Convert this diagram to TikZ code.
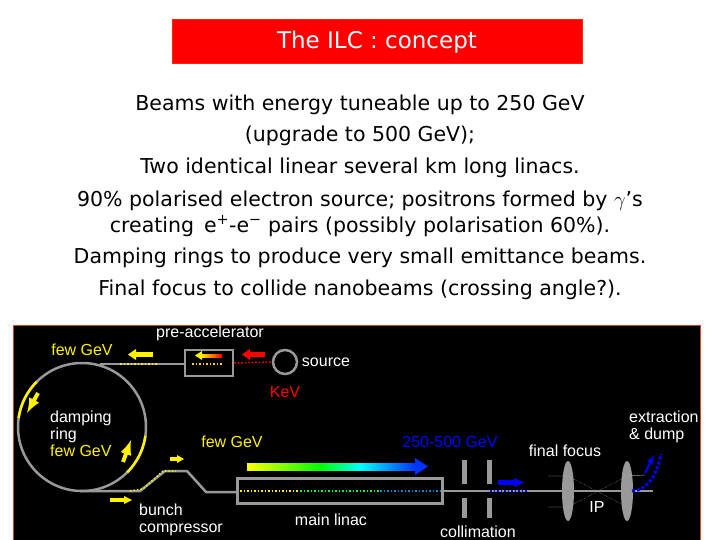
\documentclass[tikz,border=0pt]{standalone}
\usepackage{fontspec}
\usetikzlibrary{shapes.geometric}
\setmainfont{DejaVu Sans}
\newfontfamily\arialf{Liberation Sans}
\begin{document}
\begin{tikzpicture}[x=1pt,y=-1pt,
  body/.style={font=\fontsize{20.5}{22}\selectfont,align=center},
  lab/.style={font=\arialf\fontsize{16}{17}\selectfont,text=white,align=left,inner sep=0pt},
  beam/.style={draw=gray!80,line width=2.5pt}]
\useasboundingbox (0,0) rectangle (720,540);
\fill[white] (0,0) rectangle (720,540);
\node[fill=red,draw=red!70!orange,line width=1pt,minimum width=410,minimum height=44,text=white,font=\fontsize{23}{25}\selectfont] (title) at (377,42) {The ILC : concept};
\node[body] (l1) at (360,105) {Beams with energy tuneable up to 250 GeV};
\node[body] (l2) at (360,136) {(upgrade to 500 GeV);};
\node[body] (l3) at (360,168) {Two identical linear several km long linacs.};
\node[body] (l4) at (360,201) {90\% polarised electron source; positrons formed by $\gamma$’s};
\node[body] (l5) at (360,226) {creating\, e\textsuperscript{+}-e\textsuperscript{−} pairs (possibly polarisation 60\%).};
\node[body] (l6) at (360,258) {Damping rings to produce very small emittance beams.};
\node[body] (l7) at (360,290) {Final focus to collide nanobeams (crossing angle?).};
% diagram
\fill[black] (13,325) rectangle (700,540);
\draw[red!50!brown,line width=1pt] (13,540) -- (13,325) -- (700,325) -- (700,540);
\coordinate (rc) at (82,427);
\draw[beam] (rc) circle (64);
\draw[beam] (100,364) -- (185,364);
\node[draw=gray!80,line width=2.5pt,minimum width=48,minimum height=26,inner sep=0pt] (pre) at (209,363) {};
\node[draw=gray!80,line width=2.5pt,circle,minimum size=24,inner sep=0pt] (src) at (285,362) {};
\draw[red,line width=1.5pt,dotted] (pre.east) -- (src.west);
\draw[yellow,line width=1.5pt,dotted] (120,364) -- (158,364);
\draw[yellow!70!orange,line width=1.5pt,dotted] (192,364) -- (222,364);
\shade[left color=yellow,right color=red] (200,354) rectangle (222,357);
\fill[yellow] (195,355.5) -- (202,351) -- (202,360) -- cycle;
\fill[red] (247,352) rectangle (265,357);
\fill[red] (242,354.5) -- (250,349) -- (250,360) -- cycle;
\fill[yellow] (135,352) rectangle (153,357);
\fill[yellow] (128,354.5) -- (136,349) -- (136,360) -- cycle;
\draw[yellow,line width=2.5pt] plot[domain=135:172,samples=20] ({82+64*cos(\x)},{427-64*sin(\x)});
\draw[yellow,line width=2.5pt] plot[domain=-8:-45,samples=20] ({82+64*cos(\x)},{427-64*sin(\x)});
\draw[yellow,line width=4pt,-latex] (38,393) -- (27,413);
\draw[yellow,line width=4pt,-latex] (123,462) -- (131,440);
\coordinate (b0) at (80,491);
\draw[beam] (b0) -- (140,491) -- (165,471) -- (187,471) -- (206,492) -- (237,492);
\draw[yellow,line width=1.5pt,dotted] (130,491) -- (143,489) -- (163,471) -- (176,471);
\fill[yellow] (170,457) rectangle (178,461);
\fill[yellow] (177,455) -- (184,459) -- (177,463) -- cycle;
\fill[yellow] (110,498) rectangle (125,502);
\fill[yellow] (124,496) -- (132,500) -- (124,504) -- cycle;
\node[draw=gray!80,line width=2.5pt,minimum width=205,minimum height=25,inner sep=0pt] (lin) at (340,491) {};
\draw[beam] (lin.east) -- (653,491);
\draw[line width=1.5pt,dotted,yellow] (240,491) -- (300,491);
\draw[line width=1.5pt,dotted,green!80!cyan] (300,491) -- (380,491);
\draw[line width=1.5pt,dotted,cyan!70!blue] (380,491) -- (440,491);
\shade[left color=yellow,right color=green] (247,463) rectangle (320,470);
\shade[left color=green,right color=cyan] (320,463) rectangle (360,470);
\shade[left color=cyan,right color=blue!80!cyan] (360,463) rectangle (415,470);
\fill[blue!80!cyan] (415,458) -- (428,466.5) -- (415,475) -- cycle;
\foreach \x in {462,487}{\fill[gray!80] (\x,460) rectangle (\x+5,484); \fill[gray!80] (\x,498) rectangle (\x+5,518);}
\draw[line width=1.5pt,dotted,blue] (490,491) -- (528,491);
\fill[blue] (498,480) rectangle (515,485);
\fill[blue] (514,478) -- (524,482.5) -- (514,487) -- cycle;
\node[ellipse,fill=gray!80,minimum width=12,minimum height=60,inner sep=0pt] (f1) at (568,491) {};
\node[ellipse,fill=gray!80,minimum width=12,minimum height=60,inner sep=0pt] (f2) at (627,491) {};
\draw[gray!60,thin] (548,476) -- (568,476) (548,507) -- (568,507) (627,476) -- (645,475);
\draw[gray!60,thin,densely dotted] (568,476) -- (627,507) (568,507) -- (627,476);
\draw[blue,line width=3pt,dotted] (632,491) .. controls (650,490) and (658,470) .. (661,454);
\draw[blue,line width=2pt,-latex] (645,473) -- (654,455);
% labels
\node[lab,text=yellow] (t1) at (82,350) {few GeV};
\node[lab] (t2) at (210,333) {pre-accelerator};
\node[lab] (t3) at (326,362) {source};
\node[lab,text=red] (t4) at (285,392) {KeV};
\node[lab,anchor=north west] (t5) at (50,411) {damping\\ring\\\textcolor{yellow}{few GeV}};
\node[lab,text=yellow] (t6) at (232,442) {few GeV};
\node[lab,text=blue] (t7) at (450,442) {250-500 GeV};
\node[lab] (t8) at (565,451) {final focus};
\node[lab,anchor=north west] (t9) at (629,411) {extraction\\\& dump};
\node[lab] (t10) at (597,507) {IP};
\node[lab,anchor=north west] (t11) at (139,504) {bunch\\compressor};
\node[lab] (t12) at (331,520) {main linac};
\node[lab] (t13) at (478,532) {collimation};
\end{tikzpicture}
\end{document}
